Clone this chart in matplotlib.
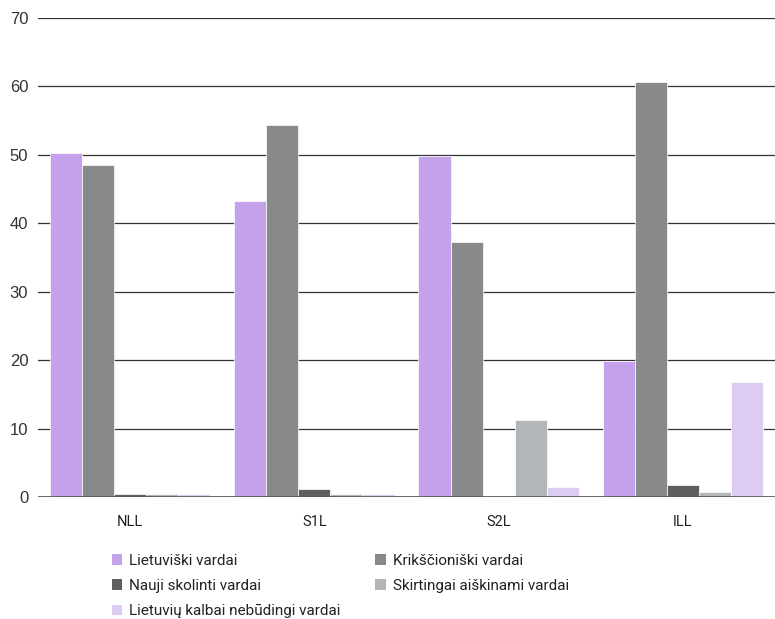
import matplotlib
matplotlib.use("Agg")
import matplotlib.pyplot as plt
import numpy as np
from matplotlib.patches import Patch

categories = ["NLL", "S1L", "S2L", "ILL"]
series_names = ["Lietuviški vardai", "Krikščioniški vardai", "Nauji skolinti vardai",
                "Skirtingai aiškinami vardai", "Lietuvių kalbai nebūdingi vardai"]
lietuviski = [50.2, 43.2, 49.8, 19.9]
krikscioniski = [48.5, 54.4, 37.3, 60.6]
nauji = [0.4, 1.1, 0.0, 1.8]
skirtingai = [0.4, 0.4, 11.2, 0.8]
nebudingi = [0.4, 0.4, 1.4, 16.8]
yticks = [0, 10, 20, 30, 40, 50, 60, 70]

colors = ["#C3A1EB", "#88898B", "#5E5F61", "#B3B6B8", "#DCCCF2"]
series = [lietuviski, krikscioniski, nauji, skirtingai, nebudingi]

fig = plt.figure(figsize=(7.75, 6.19), dpi=100)
ax = fig.add_axes([38/775, (619-497)/619, 737/775, (497-18)/619])

x = np.arange(len(categories))
group = 0.87
w = group / 5
handles = []
for i, (vals, c, name) in enumerate(zip(series, colors, series_names)):
    pos = x - group/2 + w/2 + i*w
    ax.bar(pos, vals, width=w, color=c, edgecolor="white", linewidth=0.5, zorder=3)
    handles.append(Patch(facecolor=c, edgecolor="none", label=name))

ax.set_xlim(-0.5, len(categories)-0.5)
ax.set_ylim(0, 70)
ax.set_yticks(yticks)
ax.set_yticklabels([str(t) for t in yticks], fontsize=12, color="#333333", family="Liberation Sans")
ax.tick_params(axis="y", length=0, pad=7)
ax.set_xticks(x)
ax.set_xticklabels(categories, fontsize=10.5, color="#222222", family="Roboto")
ax.tick_params(axis="x", length=0, pad=13)
for s in ["top", "right", "left", "bottom"]:
    ax.spines[s].set_visible(False)
ax.grid(axis="y", color="#333333", linewidth=0.9, zorder=0)
ax.axhline(0, color="#555555", linewidth=1.2, zorder=4)

order = [0, 2, 4, 1, 3]
leg = fig.legend([handles[i] for i in order], [series_names[i] for i in order],
                 ncol=2, loc="upper left", bbox_to_anchor=(98/775, 1-540/619),
                 frameon=False, handlelength=0.7, handleheight=0.7,
                 handletextpad=0.45, columnspacing=2.25, labelspacing=0.74,
                 prop={"family": "Roboto", "size": 11})
for t in leg.get_texts():
    t.set_color("#222222")

fig.savefig("out.png", dpi=100)
